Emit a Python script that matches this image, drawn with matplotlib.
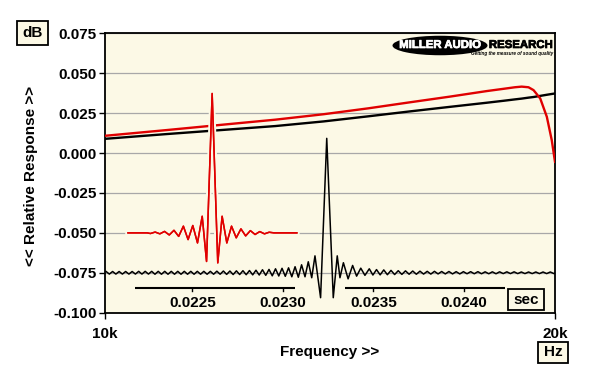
import matplotlib
matplotlib.use("Agg")
import matplotlib.pyplot as plt
import matplotlib.patheffects as pe
from matplotlib.patches import Ellipse, Rectangle

plt.rcParams['font.family'] = ['Liberation Sans', 'DejaVu Sans']
plt.rcParams['font.weight'] = 'bold'

# frequency responses, dB
freq_hz = [10000, 11000, 12000, 13000, 14000, 15000, 16000, 17000, 18000, 18500,
           18800, 19000, 19200, 19350, 19550, 19750, 19900, 20000]
resp_red = [0.0108, 0.0144, 0.0178, 0.0209, 0.0243, 0.0280, 0.0318, 0.0353, 0.0388, 0.0403,
            0.0412, 0.0416, 0.0412, 0.0394, 0.0342, 0.0227, 0.0081, -0.0055]
resp_black = [0.0089, 0.0119, 0.0145, 0.0169, 0.0198, 0.0230, 0.0261, 0.0289, 0.0315, 0.0328,
              0.0336, 0.0341, 0.0347, 0.0351, 0.0358, 0.0365, 0.0370, 0.0373]

# impulse responses: time in microseconds, level relative to the offset baseline (dB)
red_imp_offset = -0.050
red_imp_t_us = [22144, 22250, 22268, 22294, 22320, 22346, 22372, 22398, 22424, 22450,
                22476, 22502, 22528, 22554, 22578, 22609, 22640, 22664, 22690, 22716,
                22742, 22768, 22794, 22820, 22846, 22872, 22898, 22924, 22950, 23077]
red_imp_db = [0.0, 0.0, -0.0004, 0.0005, -0.0006, 0.0009, -0.0013, 0.0016, -0.0022, 0.0042,
              -0.0042, 0.0046, -0.0063, 0.0104, -0.0179, 0.0873, -0.0188, 0.0104, -0.0063, 0.0042,
              -0.0031, 0.0025, -0.0019, 0.0014, -0.0010, 0.0008, -0.0006, 0.0004, 0.0, 0.0]

black_imp_offset = -0.075
black_imp_t_us = [
    22023, 22041, 22059, 22077, 22095, 22113, 22131, 22149, 22167, 22185,
    22203, 22221, 22239, 22257, 22275, 22293, 22311, 22329, 22347, 22365,
    22383, 22401, 22419, 22437, 22455, 22473, 22491, 22509, 22527, 22545,
    22563, 22581, 22599, 22617, 22635, 22653, 22671, 22689, 22707, 22725,
    22743, 22761, 22779, 22797, 22815, 22833, 22851, 22869, 22887, 22905,
    22923, 22941, 22959, 22977, 22995, 23013, 23031, 23049, 23067, 23085,
    23103, 23122, 23140, 23159, 23177, 23208, 23242, 23278, 23300, 23315,
    23334, 23360, 23385, 23407, 23430, 23453, 23477,
    23497, 23517, 23537, 23557, 23577, 23597, 23617, 23637, 23657, 23677,
    23697, 23717, 23737, 23757, 23777, 23797, 23817, 23837, 23857, 23877,
    23897, 23917, 23937, 23957, 23977, 23997, 24017, 24037, 24057, 24077,
    24097, 24117, 24137, 24157, 24177, 24197, 24217, 24237, 24257, 24277,
    24297, 24317, 24337, 24357, 24377, 24397, 24417, 24437, 24457, 24477,
    24497, 24517]
black_imp_db = [
    0.0008, -0.0008, 0.0008, -0.0008, 0.0008, -0.0008, 0.0008, -0.0008, 0.0008, -0.0008,
    0.0009, -0.0008, 0.0009, -0.0008, 0.0009, -0.0009, 0.0009, -0.0009, 0.0009, -0.0009,
    0.0009, -0.0009, 0.0009, -0.0009, 0.0009, -0.0009, 0.0009, -0.0009, 0.0009, -0.0009,
    0.0009, -0.0009, 0.0009, -0.0009, 0.0010, -0.0009, 0.0011, -0.0010, 0.0011, -0.0011,
    0.0012, -0.0011, 0.0013, -0.0012, 0.0014, -0.0013, 0.0016, -0.0014, 0.0019, -0.0016,
    0.0021, -0.0019, 0.0025, -0.0020, 0.0028, -0.0022, 0.0031, -0.0025, 0.0038, -0.0028,
    0.0050, -0.0025, 0.0069, -0.0031, 0.0106, -0.0156, 0.0842, -0.0156, 0.0106, -0.0031,
    0.0063, -0.0038, 0.0046, -0.0021, 0.0029, -0.0016, 0.0025,
    -0.0014, 0.0020, -0.0013, 0.0018, -0.0012, 0.0015, -0.0011, 0.0013, -0.0010, 0.0012,
    -0.0009, 0.0011, -0.0009, 0.0010, -0.0008, 0.0009, -0.0008, 0.0009, -0.0007, 0.0008,
    -0.0007, 0.0008, -0.0007, 0.0007, -0.0007, 0.0007, -0.0006, 0.0007, -0.0006, 0.0007,
    -0.0006, 0.0006, -0.0006, 0.0006, -0.0006, 0.0006, -0.0005, 0.0006, -0.0005, 0.0006,
    -0.0005, 0.0005, -0.0005, 0.0005, -0.0005, 0.0005, -0.0005, 0.0005, -0.0005, 0.0005,
    -0.0005, 0.0005]

y_ticks = [0.075, 0.050, 0.025, 0.000, -0.025, -0.050, -0.075, -0.100]
y_tick_labels = ["0.075", "0.050", "0.025", "0.000", "-0.025", "-0.050", "-0.075", "-0.100"]
x_ticks = [10000, 20000]
x_tick_labels = ["10k", "20k"]
time_ticks = [0.0225, 0.0230, 0.0235, 0.0240]
time_tick_labels = ["0.0225", "0.0230", "0.0235", "0.0240"]
time_lim = (0.022017, 0.024503)
time_axis_spans_us = [(22182, 23066), (23343, 24227)]
time_axis_y = -0.0846
time_label_y = -0.0937

BG = '#fcf9e6'
RED = '#e00000'
W, H = 600, 383

fig = plt.figure(figsize=(W / 100, H / 100), dpi=100)
fig.patch.set_facecolor('white')
pos = [105 / W, 1 - 312.7 / H, 450 / W, 279.4 / H]

ax = fig.add_axes(pos)
ax.set_facecolor(BG)
ax.set_xscale('log')
ax.set_xlim(10000, 20000)
ax.set_ylim(-0.100, 0.075)
ax.set_yticks(y_ticks)
ax.set_yticklabels(y_tick_labels)
ax.set_xticks(x_ticks)
ax.set_xticklabels(x_tick_labels)
ax.xaxis.set_minor_locator(plt.NullLocator())
ax.tick_params(axis='y', length=4, width=1, pad=2, labelsize=11)
ax.tick_params(axis='x', length=4, width=1, pad=6, labelsize=11)
for s in ax.spines.values():
    s.set_linewidth(1.3)
ax.grid(axis='y', color='#a8a8a8', lw=0.9)
ax.set_axisbelow(True)

ax.plot(freq_hz, resp_black, color='black', lw=1.7, zorder=3)
ax.plot(freq_hz, resp_red, color=RED, lw=1.7, zorder=4)

# impulse responses on a time axis sharing the same dB scale
ax2 = fig.add_axes(pos)
ax2.patch.set_visible(False)
ax2.set_xlim(*time_lim)
ax2.set_ylim(-0.100, 0.075)
ax2.axis('off')

bt = [t / 1e6 for t in black_imp_t_us]
bv = [black_imp_offset + v for v in black_imp_db]
ax2.plot(bt, bv, color='black', lw=1.1)
rt = [t / 1e6 for t in red_imp_t_us]
rv = [red_imp_offset + v for v in red_imp_db]
ax2.plot(rt, rv, color=RED, lw=1.1,
         path_effects=[pe.withStroke(linewidth=4, foreground=BG), pe.Normal()])

for t0, t1 in time_axis_spans_us:
    ax2.plot([t0 / 1e6, t1 / 1e6], [time_axis_y, time_axis_y], color='black', lw=1.5,
             solid_capstyle='butt')
for t, lab in zip(time_ticks, time_tick_labels):
    ax2.plot([t, t], [time_axis_y, time_axis_y - 0.002], color='black', lw=1.0)
    ax2.text(t, time_label_y, lab, ha='center', va='center', fontsize=11, fontweight='bold')


def fig_box(x0, y0, x1, y1, text, fs=11):
    fig.add_artist(Rectangle((x0 / W, 1 - y1 / H), (x1 - x0) / W, (y1 - y0) / H,
                             transform=fig.transFigure, facecolor=BG, edgecolor='black',
                             lw=1.3, zorder=5))
    fig.text((x0 + x1) / 2 / W, 1 - (y0 + y1) / 2 / H, text, ha='center', va='center',
             fontsize=fs, fontweight='bold', zorder=6)


fig_box(17, 21, 48.5, 44.5, "dB")
fig_box(538, 342, 568, 363, "Hz")
fig_box(508, 289, 544, 310, "sec")

fig.text(31 / W, 1 - 176 / H, "<< Relative Response >>", rotation=90, ha='center', va='center',
         fontsize=11, fontweight='bold')
fig.text(330 / W, 1 - 352 / H, "Frequency >>", ha='center', va='center',
         fontsize=11, fontweight='bold')

# logo
fig.add_artist(Ellipse((440 / W, 1 - 45.5 / H), 95 / W, 19.5 / H, transform=fig.transFigure,
                       facecolor='black', edgecolor='none', zorder=5))
fig.text(440 / W, 1 - 45 / H, "MILLER AUDIO", ha='center', va='center', color='white',
         fontsize=8.2, fontweight='bold', zorder=6,
         path_effects=[pe.withStroke(linewidth=0.5, foreground='white')])
fig.text(553 / W, 1 - 45 / H, "RESEARCH", ha='right', va='center', color='black',
         fontsize=8.2, fontweight='bold', zorder=6,
         path_effects=[pe.withStroke(linewidth=0.5, foreground='black')])
fig.text(553 / W, 1 - 54 / H, "Getting the measure of sound quality", ha='right', va='center',
         color='black', fontsize=3.3, fontweight='bold', style='italic', zorder=6)

fig.savefig("out.png", dpi=100, facecolor='white')
